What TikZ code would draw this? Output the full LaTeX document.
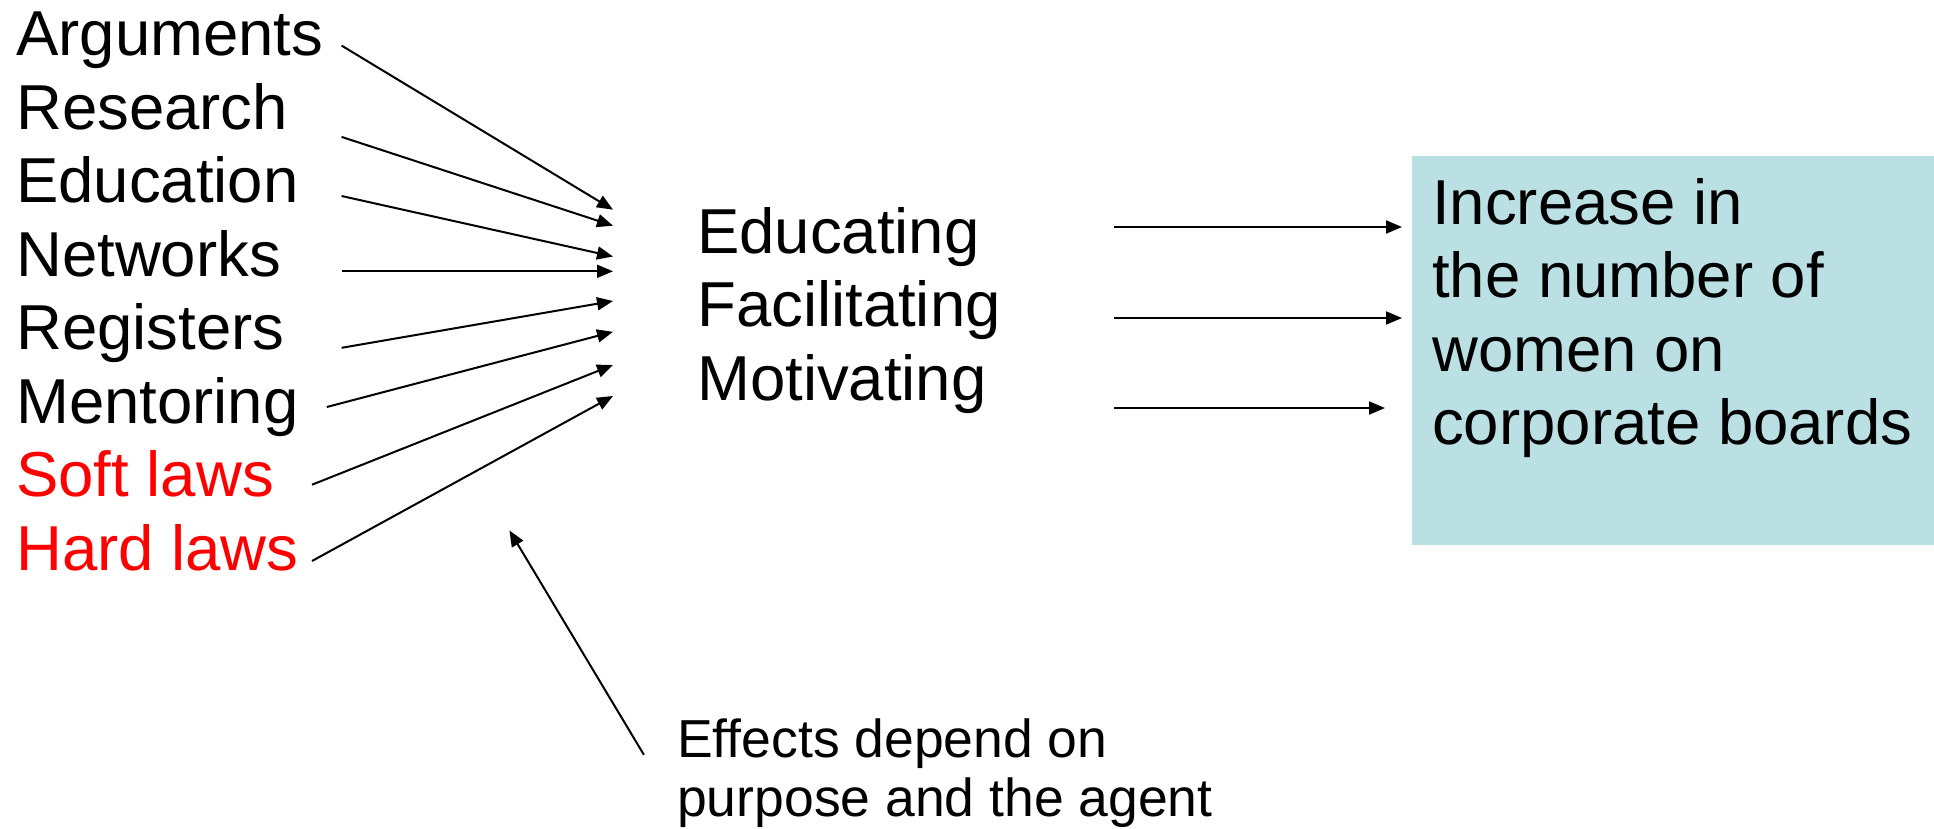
\documentclass[tikz,border=0pt]{standalone}
\usepackage{fontspec}
\setmainfont{Liberation Sans}
\usetikzlibrary{arrows.meta}
\definecolor{boxteal}{RGB}{186,224,227}
\definecolor{lawred}{RGB}{255,0,0}
\begin{document}
\begin{tikzpicture}[x=1pt,y=-1pt,
  big/.style={anchor=base west,inner sep=0pt,font=\fontsize{63.5}{73.5}\selectfont},
  small/.style={anchor=base west,inner sep=0pt,font=\fontsize{53.5}{58}\selectfont},
  conn/.style={line width=2pt,-{Triangle[length=16pt,width=13pt]}},
  goalbox/.style={fill=boxteal,draw=none,inner sep=0pt,anchor=north west,minimum width=522pt,minimum height=389pt}]
\useasboundingbox (0,0) rectangle (1934,828);
% left labels
\node[big] (arg) at (16,55.5) {Arguments};
\node[big] (res) at (16,129) {Research};
\node[big] (edu) at (16,202.5) {Education};
\node[big] (net) at (16,276) {Networks};
\node[big] (reg) at (16,349.5) {Registers};
\node[big] (men) at (16,423) {Mentoring};
\node[big,text=lawred] (soft) at (16,496.5) {Soft laws};
\node[big,text=lawred] (hard) at (16,570) {Hard laws};
% arrow end points
\coordinate (argS) at (341.6,45.6);  \coordinate (argE) at (613,209.7);
\coordinate (resS) at (341.6,136.9); \coordinate (resE) at (613,225.7);
\coordinate (eduS) at (341.6,196);   \coordinate (eduE) at (613,256.5);
\coordinate (netS) at (341.6,271.3); \coordinate (netE) at (613,271.3);
\coordinate (regS) at (341.6,347.8); \coordinate (regE) at (613,301);
\coordinate (menS) at (326.8,407);   \coordinate (menE) at (613,331.8);
\coordinate (softS) at (312,484.7);  \coordinate (softE) at (613,365);
\coordinate (hardS) at (312,561);    \coordinate (hardE) at (613,396);
\foreach \n in {arg,res,edu,net,reg,men,soft,hard}{\draw[conn] (\n S) -- (\n E);}
% middle
\node[big] (educating) at (697,253) {Educating};
\node[big] (facilitating) at (697,326.5) {Facilitating};
\node[big] (motivating) at (697,400) {Motivating};
% box
\node[goalbox] (goal) at (1412,156) {};
\node[big] (g1) at (1432,224) {Increase in};
\node[big] (g2) at (1432,297.5) {the number of};
\node[big] (g3) at (1432,371) {women on};
\node[big] (g4) at (1432,444.5) {corporate boards};
% right arrows
\coordinate (r1S) at (1113.8,227); \coordinate (r1E) at (1402,227);
\coordinate (r2S) at (1113.8,318); \coordinate (r2E) at (1402,318);
\coordinate (r3S) at (1113.8,408); \coordinate (r3E) at (1385,408);
\foreach \n in {r1,r2,r3}{\draw[conn] (\n S) -- (\n E);}
% bottom note
\node[small] (eff1) at (677,757) {Effects depend on};
\node[small] (eff2) at (677,816) {purpose and the agent};
\coordinate (noteS) at (643.9,754.8);
\coordinate (noteE) at (509.4,530.4);
\draw[conn] (noteS) -- (noteE);
\end{tikzpicture}
\end{document}
